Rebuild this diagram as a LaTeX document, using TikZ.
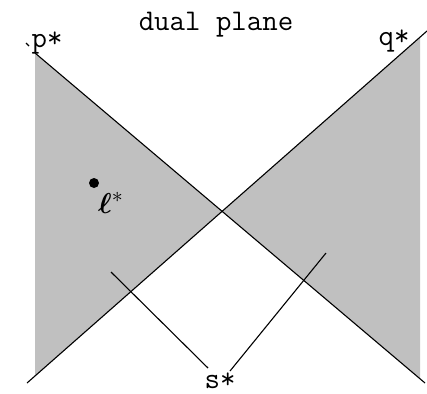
\documentclass[tikz,border=0pt]{standalone}
\usepackage{bm}
\definecolor{dualgray}{HTML}{C0C0C0}
\begin{document}
\begin{tikzpicture}[x=0.5pt,y=-0.5pt,
  dualline/.style={line width=0.55pt,draw=black},
  region/.style={fill=dualgray,draw=none},
  lbl/.style={font=\ttfamily\fontsize{15}{17}\selectfont,inner sep=0pt},
  dot/.style={circle,fill=black,inner sep=0pt,minimum size=5pt}
]
\useasboundingbox (0,0) rectangle (427,393);
% the two dual lines
\coordinate (ptop) at (35,53);
\coordinate (pbot) at (425,383);
\coordinate (qtop) at (427,31);
\coordinate (qbot) at (27,383);
\coordinate (cross) at (intersection of ptop--pbot and qtop--qbot);
\coordinate (leftlow) at (intersection of 35,0--35,393 and qtop--qbot);
\coordinate (righttop) at (intersection of 420,0--420,393 and qtop--qbot);
\coordinate (rightlow) at (intersection of 420,0--420,393 and ptop--pbot);
\fill[region] (ptop) -- (cross) -- (leftlow) -- cycle;
\fill[region] (righttop) -- (cross) -- (rightlow) -- cycle;
\draw[dualline] (ptop) -- (pbot);
\draw[dualline] (qtop) -- (qbot);
\draw[dualline] (26,43) -- (29,46);
% segment s
\coordinate (sa) at (111,272);
\coordinate (sb) at (208,368);
\coordinate (sc) at (230,371);
\coordinate (sd) at (326,253);
\draw[dualline] (sa) -- (sb);
\draw[dualline] (sc) -- (sd);
% labels
\node[lbl] (title) at (216,25) {dual plane};
\node[lbl] (plabel) at (47,43) {p*};
\node[lbl] (qlabel) at (394,41) {q*};
\node[lbl] (slabel) at (220,381) {s*};
\node[dot] (lpoint) at (94,183) {};
\node[font=\fontsize{15}{17}\selectfont,inner sep=0pt] (llabel) at (111,203) {$\bm{\ell}^{*}$};
\end{tikzpicture}
\end{document}
